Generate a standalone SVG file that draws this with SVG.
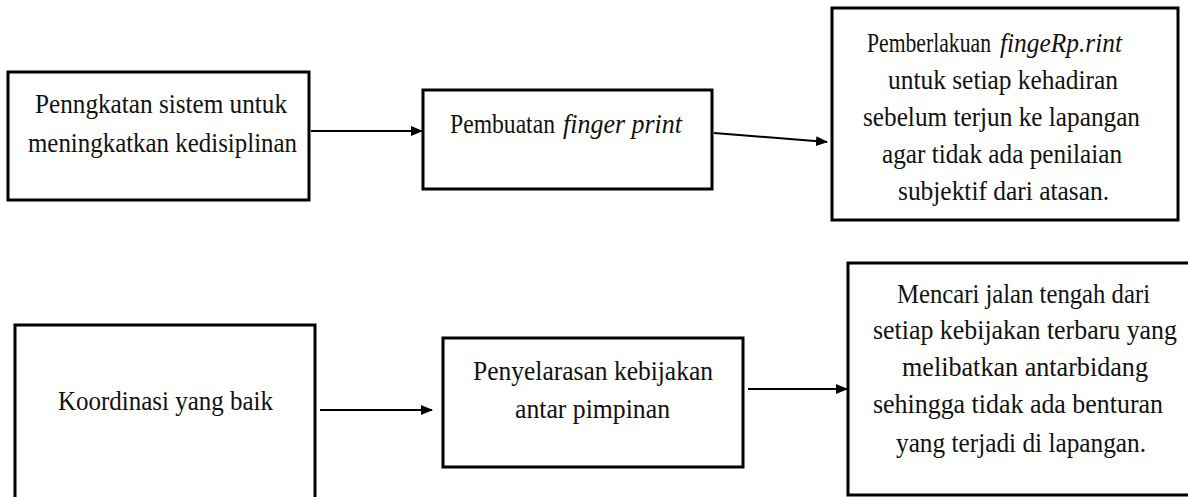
<svg xmlns="http://www.w3.org/2000/svg" width="1188" height="497" viewBox="0 0 1188 497">
  <style>
    .box { fill: #ffffff; stroke: #000000; stroke-width: 3; }
    .lbl { font-family: "Liberation Serif", "Times New Roman", serif; font-size: 27px; fill: #111111; }
    .it { font-style: italic; }
    .conn { stroke: #000000; stroke-width: 2; fill: none; }
  </style>
  <defs>
    <marker id="arrow" markerUnits="userSpaceOnUse" markerWidth="12" markerHeight="10" refX="11" refY="5" orient="auto">
      <path d="M0,0 L12,5 L0,10 Z" fill="#000000"/>
    </marker>
  </defs>
  <rect width="1188" height="497" fill="#ffffff"/>

  <!-- top row -->
  <g id="node-peningkatan">
    <rect class="box" x="8" y="72" width="301" height="128"/>
    <text class="lbl" x="35" y="113" textLength="252" lengthAdjust="spacingAndGlyphs">Penngkatan sistem untuk</text>
    <text class="lbl" x="28" y="152" textLength="269" lengthAdjust="spacingAndGlyphs">meningkatkan kedisiplinan</text>
  </g>

  <g id="node-pembuatan">
    <rect class="box" x="423" y="90" width="289" height="99"/>
    <text class="lbl" x="450" y="133" textLength="105" lengthAdjust="spacingAndGlyphs">Pembuatan</text>
    <text class="lbl it" x="563" y="133" textLength="119" lengthAdjust="spacingAndGlyphs">finger print</text>
  </g>

  <g id="node-pemberlakuan">
    <rect class="box" x="832" y="8" width="346" height="212"/>
    <!-- horizontally condensed first word -->
    <text class="lbl" transform="translate(867,52) scale(0.8,1)" x="0" y="0" textLength="155" lengthAdjust="spacingAndGlyphs">Pemberlakuan</text>
    <text class="lbl it" x="1000" y="52" textLength="122" lengthAdjust="spacingAndGlyphs">fingeRp.rint</text>
    <text class="lbl" x="888" y="89" textLength="230" lengthAdjust="spacingAndGlyphs">untuk setiap kehadiran</text>
    <text class="lbl" x="863" y="126" textLength="277" lengthAdjust="spacingAndGlyphs">sebelum terjun ke lapangan</text>
    <text class="lbl" x="882" y="163" textLength="240" lengthAdjust="spacingAndGlyphs">agar tidak ada penilaian</text>
    <text class="lbl" x="898" y="200" textLength="211" lengthAdjust="spacingAndGlyphs">subjektif dari atasan.</text>
  </g>

  <!-- bottom row -->
  <g id="node-koordinasi">
    <rect class="box" x="15" y="325" width="300" height="180"/>
    <text class="lbl" x="58" y="410" textLength="215" lengthAdjust="spacingAndGlyphs">Koordinasi yang baik</text>
  </g>

  <g id="node-penyelarasan">
    <rect class="box" x="443" y="338" width="300" height="129"/>
    <text class="lbl" x="473" y="380" textLength="240" lengthAdjust="spacingAndGlyphs">Penyelarasan kebijakan</text>
    <text class="lbl" x="515" y="418" textLength="155" lengthAdjust="spacingAndGlyphs">antar pimpinan</text>
  </g>

  <g id="node-mencari">
    <rect class="box" x="848" y="263" width="360" height="232"/>
    <text class="lbl" x="897" y="303" textLength="253" lengthAdjust="spacingAndGlyphs">Mencari jalan tengah dari</text>
    <text class="lbl" x="873" y="339" textLength="304" lengthAdjust="spacingAndGlyphs">setiap kebijakan terbaru yang</text>
    <text class="lbl" x="902" y="376" textLength="246" lengthAdjust="spacingAndGlyphs">melibatkan antarbidang</text>
    <text class="lbl" x="873" y="413" textLength="290" lengthAdjust="spacingAndGlyphs">sehingga tidak ada benturan</text>
    <text class="lbl" x="896" y="452" textLength="250" lengthAdjust="spacingAndGlyphs">yang terjadi di lapangan.</text>
  </g>

  <g id="connectors">
    <line class="conn" x1="311" y1="131" x2="422" y2="131" marker-end="url(#arrow)"/>
    <line class="conn" x1="714" y1="133" x2="827" y2="142" marker-end="url(#arrow)"/>
    <line class="conn" x1="320" y1="410" x2="432" y2="410" marker-end="url(#arrow)"/>
    <line class="conn" x1="748" y1="389" x2="847" y2="389" marker-end="url(#arrow)"/>
  </g>
</svg>
